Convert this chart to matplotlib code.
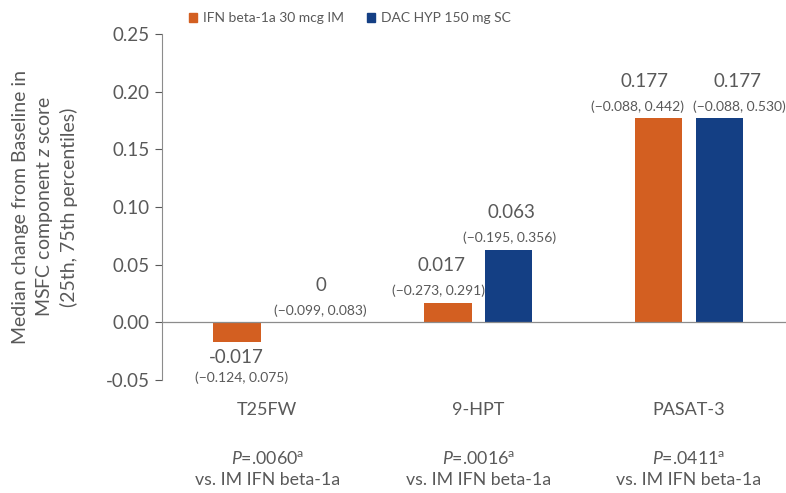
import matplotlib
matplotlib.use("Agg")
from matplotlib import pyplot as plt
from matplotlib.patches import Patch
import numpy as np

# ---- data ----
categories = ['T25FW', '9-HPT', 'PASAT-3']
p_values = ['.0060', '.0016', '.0411']
ifn_vals = [-0.017, 0.017, 0.177]
dac_vals = [0.0, 0.063, 0.177]
ifn_labels = ['-0.017', '0.017', '0.177']
dac_labels = ['0', '0.063', '0.177']
ifn_pct = ['(\u22120.124, 0.075)', '(\u22120.273, 0.291)', '(\u22120.088, 0.442)']
dac_pct = ['(\u22120.099, 0.083)', '(\u22120.195, 0.356)', '(\u22120.088, 0.530)']
series_names = ['IFN beta-1a 30 mcg IM', 'DAC HYP 150 mg SC']

ORANGE = '#D35F21'
BLUE = '#143F84'
GREY = '#595959'

plt.rcParams['font.family'] = ['Lato', 'DejaVu Sans']
plt.rcParams['axes.unicode_minus'] = False
plt.rcParams['mathtext.fontset'] = 'custom'
plt.rcParams['mathtext.rm'] = 'Lato'
plt.rcParams['mathtext.it'] = 'Lato:italic'

fig = plt.figure(figsize=(7.86, 4.93), dpi=100)
ax = fig.add_axes([0.206, 0.229, 0.794, 0.702])

x = np.arange(len(categories))
off = 0.144
w = 0.226
ax.bar(x - off, ifn_vals, w, color=ORANGE)
ax.bar(x + off, dac_vals, w, color=BLUE)

ax.set_xlim(-0.5, 2.46)
ax.set_ylim(-0.05, 0.25)
ax.set_yticks(np.arange(-0.05, 0.2501, 0.05))
ax.yaxis.set_major_formatter(matplotlib.ticker.FormatStrFormatter('%.2f'))
ax.tick_params(axis='y', colors=GREY, labelsize=13.5, length=5, width=0.8, direction='out', pad=4)
ax.tick_params(axis='x', bottom=False, labelbottom=False)
for s in ['top', 'right', 'bottom']:
    ax.spines[s].set_visible(False)
ax.spines['left'].set_color('#8c8c8c')
ax.axhline(0, color='#8c8c8c', lw=0.9)

# label nudges in pixels (value label dx, percentile dx) -- labels sit off-centre in the original
ifn_dx = [(-1, 5), (-6, -9), (-14, -21)]
dac_dx = [(23, 23), (3, 1), (18, 20)]

def label(xpos, val, txt, pct, dx):
    if val < 0:
        ax.annotate(txt, (xpos, val), xytext=(dx[0], -15), textcoords='offset pixels',
                    ha='center', va='center', fontsize=13.5, color=GREY)
        ax.annotate(pct, (xpos, val), xytext=(dx[1], -36), textcoords='offset pixels',
                    ha='center', va='center', fontsize=10, color=GREY)
    else:
        ax.annotate(txt, (xpos, val), xytext=(dx[0], 37), textcoords='offset pixels',
                    ha='center', va='center', fontsize=13.5, color=GREY)
        ax.annotate(pct, (xpos, val), xytext=(dx[1], 12), textcoords='offset pixels',
                    ha='center', va='center', fontsize=10, color=GREY)

for i in range(len(categories)):
    label(x[i] - off, ifn_vals[i], ifn_labels[i], ifn_pct[i], ifn_dx[i])
    label(x[i] + off, dac_vals[i], dac_labels[i], dac_pct[i], dac_dx[i])

# category and p-value text below the plot
trans = matplotlib.transforms.blended_transform_factory(ax.transData, fig.transFigure)
for i, c in enumerate(categories):
    ax.text(x[i], 1 - 410 / 493, c, transform=trans, ha='center', va='center',
            fontsize=13, color=GREY)
    ax.text(x[i], 1 - 458 / 493, '$P$=' + p_values[i] + '$^{\\mathrm{a}}$', transform=trans,
            ha='center', va='center', fontsize=12.8, color=GREY)
    ax.text(x[i], 1 - 480 / 493, 'vs. IM IFN beta-1a', transform=trans,
            ha='center', va='center', fontsize=12.8, color=GREY)

ax.set_ylabel('Median change from Baseline in\nMSFC component $z$ score\n(25th, 75th percentiles)',
              fontsize=14, color=GREY, linespacing=1.3, labelpad=20)

handles = [Patch(color=ORANGE), Patch(color=BLUE)]
leg = fig.legend(handles, series_names, loc='center left', bbox_to_anchor=(0.240, 0.963),
                 ncol=2, frameon=False, fontsize=10, handlelength=0.6, handleheight=0.6,
                 handletextpad=0.4, columnspacing=1.7, borderpad=0, borderaxespad=0)
for t in leg.get_texts():
    t.set_color(GREY)

fig.savefig('out.png', dpi=100)
